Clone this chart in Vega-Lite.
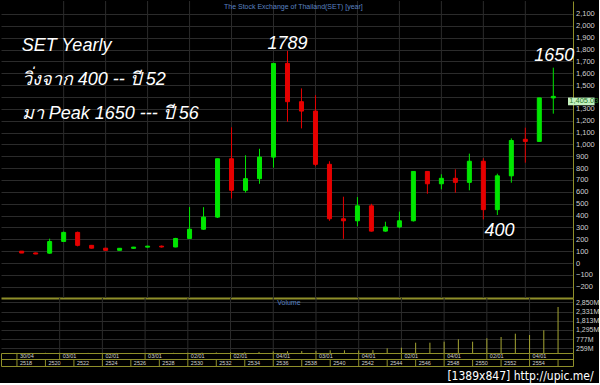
{
  "$schema": "https://vega.github.io/schema/vega-lite/v6.json",
  "background": "black",
  "padding": 0,
  "spacing": 0,
  "bounds": "flush",
  "config": {
    "view": {"stroke": null},
    "axis": {"labelFont": "Liberation Sans", "labelColor": "#cfcfcf", "labelFontSize": 7.5, "gridColor": "#2b2b2b", "domainColor": "#8f8f2a", "ticks": false, "labelPadding": 2.5, "labelOverlap": false, "title": null, "zindex": 0}
  },
  "datasets": {
    "one": [{}],
    "set": [
      {"year": 2518, "open": 100, "high": 100, "low": 84, "close": 84, "vol": 5},
      {"year": 2519, "open": 85, "high": 88, "low": 74, "close": 76, "vol": 5},
      {"year": 2520, "open": 83, "high": 205, "low": 78, "close": 181, "vol": 10},
      {"year": 2521, "open": 182, "high": 265, "low": 180, "close": 258, "vol": 15},
      {"year": 2522, "open": 258, "high": 265, "low": 140, "close": 149, "vol": 10},
      {"year": 2523, "open": 149, "high": 152, "low": 122, "close": 125, "vol": 5},
      {"year": 2524, "open": 125, "high": 127, "low": 104, "close": 107, "vol": 5},
      {"year": 2525, "open": 107, "high": 126, "low": 105, "close": 124, "vol": 5},
      {"year": 2526, "open": 124, "high": 136, "low": 121, "close": 134, "vol": 5},
      {"year": 2527, "open": 134, "high": 145, "low": 131, "close": 142, "vol": 5},
      {"year": 2528, "open": 142, "high": 147, "low": 130, "close": 135, "vol": 5},
      {"year": 2529, "open": 135, "high": 212, "low": 133, "close": 207, "vol": 10},
      {"year": 2530, "open": 207, "high": 472, "low": 202, "close": 285, "vol": 20},
      {"year": 2531, "open": 285, "high": 471, "low": 280, "close": 387, "vol": 20},
      {"year": 2532, "open": 387, "high": 879, "low": 380, "close": 879, "vol": 30},
      {"year": 2533, "open": 879, "high": 1144, "low": 544, "close": 613, "vol": 40},
      {"year": 2534, "open": 613, "high": 908, "low": 594, "close": 711, "vol": 40},
      {"year": 2535, "open": 711, "high": 963, "low": 668, "close": 893, "vol": 60},
      {"year": 2536, "open": 893, "high": 1683, "low": 804, "close": 1683, "vol": 90},
      {"year": 2537, "open": 1683, "high": 1789, "low": 1191, "close": 1360, "vol": 100},
      {"year": 2538, "open": 1360, "high": 1472, "low": 1135, "close": 1281, "vol": 110},
      {"year": 2539, "open": 1281, "high": 1415, "low": 816, "close": 832, "vol": 120},
      {"year": 2540, "open": 832, "high": 858, "low": 356, "close": 373, "vol": 152},
      {"year": 2541, "open": 373, "high": 559, "low": 204, "close": 356, "vol": 152},
      {"year": 2542, "open": 356, "high": 556, "low": 310, "close": 482, "vol": 140},
      {"year": 2543, "open": 482, "high": 499, "low": 265, "close": 269, "vol": 163},
      {"year": 2544, "open": 269, "high": 348, "low": 264, "close": 304, "vol": 265},
      {"year": 2545, "open": 304, "high": 433, "low": 294, "close": 356, "vol": 298},
      {"year": 2546, "open": 356, "high": 772, "low": 350, "close": 772, "vol": 580},
      {"year": 2547, "open": 772, "high": 775, "low": 584, "close": 668, "vol": 580},
      {"year": 2548, "open": 668, "high": 748, "low": 621, "close": 714, "vol": 636},
      {"year": 2549, "open": 714, "high": 790, "low": 593, "close": 680, "vol": 771},
      {"year": 2550, "open": 680, "high": 922, "low": 613, "close": 858, "vol": 636},
      {"year": 2551, "open": 858, "high": 884, "low": 368, "close": 450, "vol": 828},
      {"year": 2552, "open": 450, "high": 753, "low": 405, "close": 735, "vol": 901},
      {"year": 2553, "open": 735, "high": 1051, "low": 677, "close": 1033, "vol": 1087},
      {"year": 2554, "open": 1043, "high": 1141, "low": 846, "close": 1025, "vol": 1013},
      {"year": 2555, "open": 1025, "high": 1392, "low": 1025, "close": 1392, "vol": 1278},
      {"year": 2556, "open": 1392, "high": 1647, "low": 1259, "close": 1405.03, "vol": 2590}
    ],
    "grid": [{"year": 2521}, {"year": 2524}, {"year": 2527}, {"year": 2530}, {"year": 2533}, {"year": 2536}, {"year": 2539}, {"year": 2542}, {"year": 2545}, {"year": 2548}, {"year": 2551}, {"year": 2554}],
    "dates": [
      {"year": 2518, "label": "30/04"}, {"year": 2521, "label": "03/01"}, {"year": 2524, "label": "02/01"}, {"year": 2527, "label": "03/01"}, {"year": 2530, "label": "02/01"}, {"year": 2533, "label": "02/01"}, {"year": 2536, "label": "04/01"}, {"year": 2539, "label": "03/01"}, {"year": 2542, "label": "04/01"}, {"year": 2545, "label": "02/01"}, {"year": 2548, "label": "04/01"}, {"year": 2551, "label": "02/01"}, {"year": 2554, "label": "04/01"}
    ],
    "years": [
      {"year": 2518, "label": "2518"}, {"year": 2520, "label": "2520"}, {"year": 2522, "label": "2522"}, {"year": 2524, "label": "2524"}, {"year": 2526, "label": "2526"}, {"year": 2528, "label": "2528"}, {"year": 2530, "label": "2530"}, {"year": 2532, "label": "2532"}, {"year": 2534, "label": "2534"}, {"year": 2536, "label": "2536"}, {"year": 2538, "label": "2538"}, {"year": 2540, "label": "2540"}, {"year": 2542, "label": "2542"}, {"year": 2544, "label": "2544"}, {"year": 2546, "label": "2546"}, {"year": 2548, "label": "2548"}, {"year": 2550, "label": "2550"}, {"year": 2552, "label": "2552"}, {"year": 2554, "label": "2554"}, {"year": 2556, "label": ""}
    ],
    "notes": [
      {"text": "SET Yearly", "year": 2518, "price": 1787},
      {"text": "วิ่งจาก 400 -- ปี 52", "year": 2518, "price": 1505},
      {"text": "มา  Peak 1650 --- ปี 56", "year": 2518, "price": 1218}
    ],
    "peaks": [
      {"text": "1789", "year": 2537.0, "price": 1802},
      {"text": "1650", "year": 2556.06, "price": 1703},
      {"text": "400", "year": 2552.16, "price": 228}
    ]
  },
  "vconcat": [
    {
      "width": 572,
      "height": 297,
      "layer": [
        {
          "data": {"name": "grid"},
          "mark": {"type": "rule", "color": "#2b2b2b", "strokeWidth": 1},
          "encoding": {
            "x": {"field": "year", "type": "quantitative", "scale": {"domain": [2516.88, 2557.05], "nice": false, "zero": false},
              "axis": {"orient": "bottom", "labels": false, "grid": false, "domainColor": "#8f8f2a", "domainWidth": 2}}
          }
        },
        {
          "data": {"name": "set"},
          "mark": {"type": "rule", "strokeWidth": 1},
          "encoding": {
            "x": {"field": "year", "type": "quantitative", "axis": {"orient": "bottom", "labels": false, "grid": false, "domainColor": "#8f8f2a", "domainWidth": 2}},
            "y": {"field": "low", "type": "quantitative", "scale": {"domain": [-295, 2209], "nice": false, "zero": false},
              "axis": {"orient": "right", "values": [-200, -100, 0, 100, 200, 300, 400, 500, 600, 700, 800, 900, 1000, 1100, 1200, 1300, 1400, 1500, 1600, 1700, 1800, 1900, 2000, 2100], "labelExpr": "datum.value == 1400 ? '' : format(datum.value, ',')", "grid": true}},
            "y2": {"field": "high"},
            "color": {"condition": {"test": "datum.close >= datum.open", "value": "#00e600"}, "value": "#e60000"}
          }
        },
        {
          "data": {"name": "set"},
          "mark": {"type": "bar", "width": 4, "strokeWidth": 1},
          "encoding": {
            "x": {"field": "year", "type": "quantitative", "axis": {"orient": "bottom", "labels": false, "grid": false, "domainColor": "#8f8f2a", "domainWidth": 2}},
            "y": {"field": "open", "type": "quantitative", "axis": {"orient": "right", "values": [-200, -100, 0, 100, 200, 300, 400, 500, 600, 700, 800, 900, 1000, 1100, 1200, 1300, 1400, 1500, 1600, 1700, 1800, 1900, 2000, 2100], "labelExpr": "datum.value == 1400 ? '' : format(datum.value, ',')", "grid": true}},
            "y2": {"field": "close"},
            "fill": {"condition": {"test": "datum.close >= datum.open", "value": "#00e600"}, "value": "#e60000"},
            "stroke": {"condition": {"test": "datum.close >= datum.open", "value": "#00e600"}, "value": "#e60000"}
          }
        },
        {
          "data": {"name": "notes"},
          "mark": {"type": "text", "font": "Liberation Sans, DejaVu Sans, sans-serif", "fontStyle": "italic", "fontSize": 18, "color": "white", "align": "left", "baseline": "alphabetic"},
          "encoding": {
            "x": {"field": "year", "type": "quantitative", "axis": {"orient": "bottom", "labels": false, "grid": false, "domainColor": "#8f8f2a", "domainWidth": 2}},
            "y": {"field": "price", "type": "quantitative", "axis": {"orient": "right", "values": [-200, -100, 0, 100, 200, 300, 400, 500, 600, 700, 800, 900, 1000, 1100, 1200, 1300, 1400, 1500, 1600, 1700, 1800, 1900, 2000, 2100], "labelExpr": "datum.value == 1400 ? '' : format(datum.value, ',')", "grid": true}},
            "text": {"field": "text"}
          }
        },
        {
          "data": {"name": "peaks"},
          "mark": {"type": "text", "font": "Liberation Sans", "fontStyle": "italic", "fontSize": 18, "color": "white", "align": "center", "baseline": "alphabetic"},
          "encoding": {
            "x": {"field": "year", "type": "quantitative", "axis": {"orient": "bottom", "labels": false, "grid": false, "domainColor": "#8f8f2a", "domainWidth": 2}},
            "y": {"field": "price", "type": "quantitative", "axis": {"orient": "right", "values": [-200, -100, 0, 100, 200, 300, 400, 500, 600, 700, 800, 900, 1000, 1100, 1200, 1300, 1400, 1500, 1600, 1700, 1800, 1900, 2000, 2100], "labelExpr": "datum.value == 1400 ? '' : format(datum.value, ',')", "grid": true}},
            "text": {"field": "text"}
          }
        },
        {
          "data": {"name": "one"},
          "mark": {"type": "text", "font": "Liberation Sans", "fontSize": 7, "color": "#5a82c0", "align": "center", "baseline": "middle"},
          "encoding": {
            "x": {"datum": 2537.42, "type": "quantitative", "axis": {"orient": "bottom", "labels": false, "grid": false, "domainColor": "#8f8f2a", "domainWidth": 2}},
            "y": {"datum": 2158, "type": "quantitative", "axis": {"orient": "right", "values": [-200, -100, 0, 100, 200, 300, 400, 500, 600, 700, 800, 900, 1000, 1100, 1200, 1300, 1400, 1500, 1600, 1700, 1800, 1900, 2000, 2100], "labelExpr": "datum.value == 1400 ? '' : format(datum.value, ',')", "grid": true}},
            "text": {"value": "The Stock Exchange of Thailand(SET) [year]"}
          }
        },
        {
          "data": {"name": "one"},
          "mark": {"type": "rect", "fill": "#c4f2c0"},
          "encoding": {
            "x": {"datum": 2557.05, "type": "quantitative", "axis": {"orient": "bottom", "labels": false, "grid": false, "domainColor": "#8f8f2a", "domainWidth": 2}},
            "x2": {"datum": 2558.95},
            "y": {"datum": 1395, "type": "quantitative", "axis": {"orient": "right", "values": [-200, -100, 0, 100, 200, 300, 400, 500, 600, 700, 800, 900, 1000, 1100, 1200, 1300, 1400, 1500, 1600, 1700, 1800, 1900, 2000, 2100], "labelExpr": "datum.value == 1400 ? '' : format(datum.value, ',')", "grid": true}},
            "y2": {"datum": 1330}
          }
        },
        {
          "data": {"name": "one"},
          "mark": {"type": "text", "font": "Liberation Sans", "fontSize": 7.5, "color": "#2a7a2a", "align": "left", "baseline": "middle"},
          "encoding": {
            "x": {"datum": 2557.14, "type": "quantitative", "axis": {"orient": "bottom", "labels": false, "grid": false, "domainColor": "#8f8f2a", "domainWidth": 2}},
            "y": {"datum": 1362, "type": "quantitative", "axis": {"orient": "right", "values": [-200, -100, 0, 100, 200, 300, 400, 500, 600, 700, 800, 900, 1000, 1100, 1200, 1300, 1400, 1500, 1600, 1700, 1800, 1900, 2000, 2100], "labelExpr": "datum.value == 1400 ? '' : format(datum.value, ',')", "grid": true}},
            "text": {"value": "1,405.03"}
          }
        }
      ]
    },
    {
      "width": 572,
      "height": 55,
      "layer": [
        {
          "data": {"name": "grid"},
          "mark": {"type": "rule", "color": "#2b2b2b", "strokeWidth": 1},
          "encoding": {
            "x": {"field": "year", "type": "quantitative", "scale": {"domain": [2516.88, 2557.05], "nice": false, "zero": false}, "axis": null}
          }
        },
        {
          "data": {"name": "set"},
          "mark": {"type": "rule", "color": "#a5a532", "strokeWidth": 1},
          "encoding": {
            "x": {"field": "year", "type": "quantitative", "axis": null},
            "y": {"field": "vol", "type": "quantitative", "scale": {"domain": [0, 3096], "nice": false, "zero": false},
              "axis": {"orient": "right", "values": [259, 777, 1295, 1813, 2331, 2850], "labelExpr": "format(datum.value, ',') + 'M'", "grid": true, "labelFontSize": 7}},
            "y2": {"datum": 0}
          }
        },
        {
          "data": {"name": "one"},
          "mark": {"type": "text", "font": "Liberation Sans", "fontSize": 7, "color": "#5a82c0", "align": "center", "baseline": "middle"},
          "encoding": {
            "x": {"datum": 2537.1, "type": "quantitative", "axis": null},
            "y": {"datum": 2815, "type": "quantitative", "axis": {"orient": "right", "values": [259, 777, 1295, 1813, 2331, 2850], "labelExpr": "format(datum.value, ',') + 'M'", "grid": true, "labelFontSize": 7}},
            "text": {"value": "Volume"}
          }
        }
      ]
    },
    {
      "width": 572,
      "height": 13,
      "view": {"stroke": "#8f8f2a", "strokeWidth": 1},
      "layer": [
        {
          "data": {"name": "one"},
          "mark": {"type": "rule", "color": "#8f8f2a", "strokeWidth": 1},
          "encoding": {
            "y": {"datum": 1, "type": "quantitative", "scale": {"domain": [0, 2], "nice": false, "zero": false}, "axis": null}
          }
        },
        {
          "data": {"name": "dates"},
          "mark": {"type": "rule", "color": "#8f8f2a", "strokeWidth": 1},
          "encoding": {
            "x": {"field": "year", "type": "quantitative", "scale": {"domain": [2516.88, 2557.05], "nice": false, "zero": false}, "axis": null},
            "y": {"datum": 1, "type": "quantitative", "axis": null},
            "y2": {"datum": 2}
          }
        },
        {
          "data": {"name": "years"},
          "mark": {"type": "rule", "color": "#8f8f2a", "strokeWidth": 1},
          "encoding": {
            "x": {"field": "year", "type": "quantitative", "axis": null},
            "y": {"datum": 0, "type": "quantitative", "axis": null},
            "y2": {"datum": 1}
          }
        },
        {
          "data": {"name": "dates"},
          "mark": {"type": "text", "font": "Liberation Sans", "fontSize": 5.5, "color": "#d0d0d0", "align": "left", "baseline": "middle", "dx": 3},
          "encoding": {
            "x": {"field": "year", "type": "quantitative", "axis": null},
            "y": {"datum": 1.5, "type": "quantitative", "axis": null},
            "text": {"field": "label"}
          }
        },
        {
          "data": {"name": "years"},
          "mark": {"type": "text", "font": "Liberation Sans", "fontSize": 5.5, "color": "#d0d0d0", "align": "left", "baseline": "middle", "dx": 3},
          "encoding": {
            "x": {"field": "year", "type": "quantitative", "axis": null},
            "y": {"datum": 0.5, "type": "quantitative", "axis": null},
            "text": {"field": "label"}
          }
        },
        {
          "data": {"name": "one"},
          "mark": {"type": "text", "font": "DejaVu Sans Condensed", "fontSize": 12, "color": "white", "align": "right", "baseline": "middle"},
          "encoding": {
            "x": {"datum": 2558.5, "type": "quantitative", "axis": null},
            "y": {"datum": -1.6, "type": "quantitative", "axis": null},
            "text": {"value": "[1389x847] http://upic.me/"}
          }
        }
      ]
    }
  ]
}
